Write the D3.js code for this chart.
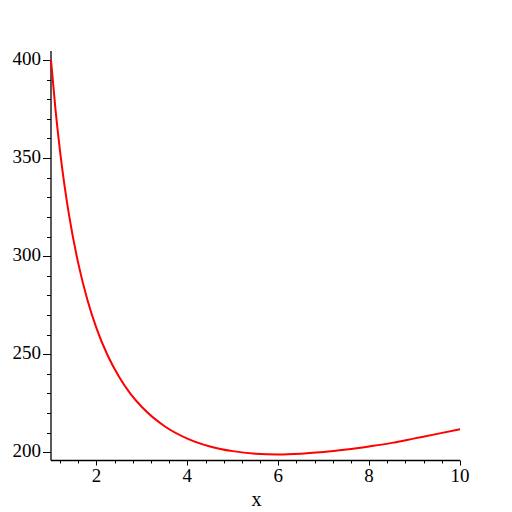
<!DOCTYPE html>
<html><head><meta charset="utf-8">
<script src="https://cdn.jsdelivr.net/npm/d3@7"></script>
<style>body{margin:0;background:#fff}svg{display:block}text{font-family:"Liberation Serif","DejaVu Serif",serif;fill:#000}</style>
</head><body><svg id="c" width="512" height="512"></svg>
<script>
const xValues = [1, 1.1, 1.2, 1.3, 1.4, 1.6, 1.8, 2.0, 2.25, 2.5, 2.75, 3, 3.5, 4, 4.5, 5, 5.5, 6, 6.5, 7, 7.5, 8, 8.5, 9, 9.5, 10];
const yValues = [400, 374.4, 353.3, 335.6, 320.5, 296.3, 277.8, 263.3, 249.2, 238.4, 229.8, 223.1, 213.3, 207.0, 203.0, 200.6, 199.3, 198.9, 199.3, 200.1, 201.4, 203.0, 204.8, 207.1, 209.4, 211.8];
const xTickLabels = [2, 4, 6, 8, 10];
const yTickLabels = [200, 250, 300, 350, 400];
const xMinorTicks = d3.range(1.2, 10.01, 0.4).map(v => +v.toFixed(1));
const yMinorTicks = d3.range(200, 401, 10);
const xLabel = "x";

const svg = d3.select("#c");
const x = d3.scaleLinear().domain([1, 10]).range([51, 460]);
const y = d3.scaleLinear().domain([200, 400]).range([452.3, 60]);
const yBottom = 460.5, yTop = 51;

const g = svg.append("g");
g.append("line").attr("x1", 51).attr("x2", 51).attr("y1", yTop).attr("y2", yBottom).attr("stroke", "#000").attr("stroke-width", 1.3);
g.append("line").attr("x1", 51).attr("x2", x(10)).attr("y1", yBottom).attr("y2", yBottom).attr("stroke", "#000").attr("stroke-width", 1.3);

g.selectAll(".xm").data(xMinorTicks).enter().append("line")
  .attr("x1", d => Math.round(x(d)) + 0.5).attr("x2", d => Math.round(x(d)) + 0.5)
  .attr("y1", yBottom).attr("y2", d => xTickLabels.includes(d) ? yBottom + 5 : yBottom + 3)
  .attr("stroke", "#000");
g.selectAll(".xl").data(xTickLabels).enter().append("text")
  .attr("x", d => x(d)).attr("y", 482).attr("text-anchor", "middle")
  .attr("font-size", 19).text(d => d);

g.selectAll(".ym").data(yMinorTicks).enter().append("line")
  .attr("y1", d => Math.round(y(d)) + 0.5).attr("y2", d => Math.round(y(d)) + 0.5)
  .attr("x1", 51).attr("x2", d => yTickLabels.includes(d) ? 43 : 47)
  .attr("stroke", "#000");
g.selectAll(".yl").data(yTickLabels).enter().append("text")
  .attr("x", 41).attr("y", d => y(d) + 4.5).attr("text-anchor", "end")
  .attr("font-size", 19).text(d => d);

g.append("text").attr("x", 256.5).attr("y", 506).attr("text-anchor", "middle").attr("font-size", 20).text(xLabel);

const pts = xValues.map((v, i) => [v, yValues[i]]);
svg.append("path").datum(pts)
  .attr("d", d3.line().x(d => x(d[0])).y(d => y(d[1])).curve(d3.curveMonotoneX))
  .attr("fill", "none").attr("stroke", "#ff0000").attr("stroke-width", 2);
</script></body></html>
